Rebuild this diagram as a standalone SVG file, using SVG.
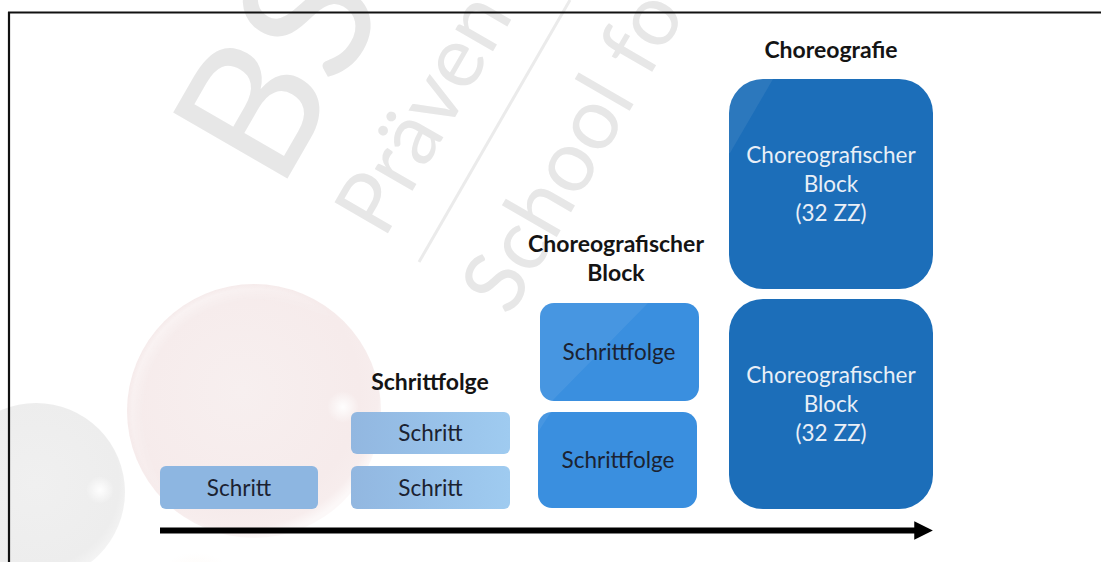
<svg xmlns="http://www.w3.org/2000/svg" width="1101" height="562" viewBox="0 0 1101 562">
  <style>
    .wm { font-family: Lato, "Open Sans", sans-serif; fill: #e7e7e7; }
    .head { font-family: Lato, "Liberation Sans", sans-serif; font-weight: bold; font-size: 23px; fill: #141414; text-anchor: middle; }
    .lbl { font-family: Lato, "Liberation Sans", sans-serif; font-size: 22.5px; fill: #1b2231; text-anchor: middle; }
    .lbl-w { font-family: Lato, "Liberation Sans", sans-serif; font-size: 22.5px; fill: #e9eff7; text-anchor: middle; }
    .step { fill: #8db6e1; }
    .step2 { fill: url(#stepGrad); }
    .seq { fill: #3a8fdf; }
    .blk { fill: #1c6eb9; }
    .gloss { fill: #ffffff; opacity: 0.07; }
  </style>
  <defs>
    <radialGradient id="redBall" cx="0.45" cy="0.42" r="0.58">
      <stop offset="0" stop-color="#f7efef"/>
      <stop offset="0.8" stop-color="#f6ebeb"/>
      <stop offset="0.93" stop-color="#f7eded"/>
      <stop offset="1" stop-color="#fcf8f8"/>
    </radialGradient>
    <radialGradient id="grayBall" cx="0.5" cy="0.45" r="0.55">
      <stop offset="0" stop-color="#f0f0f0"/>
      <stop offset="0.85" stop-color="#ededed"/>
      <stop offset="1" stop-color="#f5f5f5"/>
    </radialGradient>
    <radialGradient id="spark" cx="0.5" cy="0.5" r="0.5">
      <stop offset="0" stop-color="#ffffff" stop-opacity="0.95"/>
      <stop offset="1" stop-color="#ffffff" stop-opacity="0"/>
    </radialGradient>
    <radialGradient id="rim" cx="0.5" cy="0.5" r="0.5">
      <stop offset="0.86" stop-color="#ffffff" stop-opacity="0"/>
      <stop offset="0.96" stop-color="#ffffff" stop-opacity="0.55"/>
      <stop offset="1" stop-color="#ffffff" stop-opacity="0"/>
    </radialGradient>
    <radialGradient id="warm" cx="0.5" cy="0.5" r="0.5">
      <stop offset="0" stop-color="#fbede2"/>
      <stop offset="1" stop-color="#fdf6f0" stop-opacity="0"/>
    </radialGradient>
    <linearGradient id="rimFade" x1="0" y1="0" x2="1" y2="1">
      <stop offset="0" stop-color="#fff" stop-opacity="1"/>
      <stop offset="0.5" stop-color="#fff" stop-opacity="0"/>
    </linearGradient>
    <mask id="rimMask"><rect x="120" y="280" width="270" height="270" fill="url(#rimFade)"/></mask>
    <linearGradient id="stepGrad" x1="0" y1="0" x2="1" y2="0">
      <stop offset="0" stop-color="#92b7e0"/>
      <stop offset="0.45" stop-color="#97c0e8"/>
      <stop offset="1" stop-color="#9fcbf0"/>
    </linearGradient>
    <marker id="head" viewBox="0 0 10 10" refX="2" refY="5" markerWidth="3.4" markerHeight="3.1" orient="auto" markerUnits="strokeWidth">
      <path d="M0,0 L10,5 L0,10 Z" fill="#000"/>
    </marker>
    <clipPath id="clipSeq1"><rect x="540" y="303" width="159" height="98" rx="14"/></clipPath>
    <clipPath id="clipSeq2"><rect x="538" y="412" width="159" height="96" rx="14"/></clipPath>
    <clipPath id="clipBlk1"><rect x="729" y="79" width="204" height="210" rx="34"/></clipPath>
  </defs>

  <!-- page background -->
  <rect width="1101" height="562" fill="#ffffff"/>

  <!-- decorative spheres -->
  <g id="backdrop">
    <circle cx="254" cy="411" r="127" fill="url(#redBall)"/>
    <circle cx="254" cy="411" r="127" fill="url(#rim)" mask="url(#rimMask)"/>
    <circle cx="343" cy="407" r="16" fill="url(#spark)"/>
    <circle cx="36" cy="492" r="89" fill="url(#grayBall)"/>
    <circle cx="100" cy="490" r="14" fill="url(#spark)"/>
    <circle cx="196" cy="600" r="48" fill="url(#warm)"/>
  </g>

  <!-- watermark lettering -->
  <g id="watermark">
    <text class="wm" transform="translate(279,193) rotate(-60)" font-size="184">BS</text>
    <text class="wm" transform="translate(384,240) rotate(-60)" font-size="86">Präven</text>
    <text class="wm" transform="translate(510,318) rotate(-60)" font-size="86">School fo</text>
    <line x1="419" y1="262" x2="570" y2="0" stroke="#ebebeb" stroke-width="3"/>
  </g>

  <!-- frame -->
  <g id="frame" stroke="#111111" stroke-width="2.2" fill="none">
    <line x1="8" y1="12.5" x2="1101" y2="12.5"/>
    <line x1="9" y1="12" x2="9" y2="562"/>
  </g>

  <!-- level 1: single step -->
  <g id="step-single">
    <rect class="step" x="160" y="466" width="158" height="43" rx="6"/>
    <text class="lbl" x="239" y="496">Schritt</text>
  </g>

  <!-- level 2: step sequence -->
  <g id="sequence-title">
    <text class="head" x="430" y="390">Schrittfolge</text>
  </g>
  <g id="sequence-step-a">
    <rect class="step2" x="351" y="412" width="159" height="42" rx="6"/>
    <text class="lbl" x="430.5" y="441">Schritt</text>
  </g>
  <g id="sequence-step-b">
    <rect class="step2" x="351" y="466" width="159" height="43" rx="6"/>
    <text class="lbl" x="430.5" y="496">Schritt</text>
  </g>

  <!-- level 3: choreographic block -->
  <g id="block-title">
    <text class="head" x="616" y="252">Choreografischer</text>
    <text class="head" x="616" y="281">Block</text>
  </g>
  <g id="block-sequence-a">
    <rect class="seq" x="540" y="303" width="159" height="98" rx="14"/>
    <polygon class="gloss" clip-path="url(#clipSeq1)" points="540,303 648,303 552,401 540,401"/>
    <text class="lbl" x="619" y="360">Schrittfolge</text>
  </g>
  <g id="block-sequence-b">
    <rect class="seq" x="538" y="412" width="159" height="96" rx="14"/>
    <polygon class="gloss" clip-path="url(#clipSeq2)" points="538,412 551,412 538,432"/>
    <text class="lbl" x="618" y="468">Schrittfolge</text>
  </g>

  <!-- level 4: choreography -->
  <g id="choreo-title">
    <text class="head" x="831" y="58">Choreografie</text>
  </g>
  <g id="choreo-block-a">
    <rect class="blk" x="729" y="79" width="204" height="210" rx="34"/>
    <polygon class="gloss" clip-path="url(#clipBlk1)" points="729,79 773,79 730,153 729,153"/>
    <text class="lbl-w" x="831" y="163">Choreografischer</text>
    <text class="lbl-w" x="831" y="192">Block</text>
    <text class="lbl-w" x="831" y="221">(32 ZZ)</text>
  </g>
  <g id="choreo-block-b">
    <rect class="blk" x="729" y="299" width="204" height="210" rx="34"/>
    <text class="lbl-w" x="831" y="383">Choreografischer</text>
    <text class="lbl-w" x="831" y="412">Block</text>
    <text class="lbl-w" x="831" y="441">(32 ZZ)</text>
  </g>

  <!-- progression arrow -->
  <g id="connectors">
    <line x1="160" y1="530.5" x2="918" y2="530.5" stroke="#000" stroke-width="6" marker-end="url(#head)"/>
  </g>
</svg>
